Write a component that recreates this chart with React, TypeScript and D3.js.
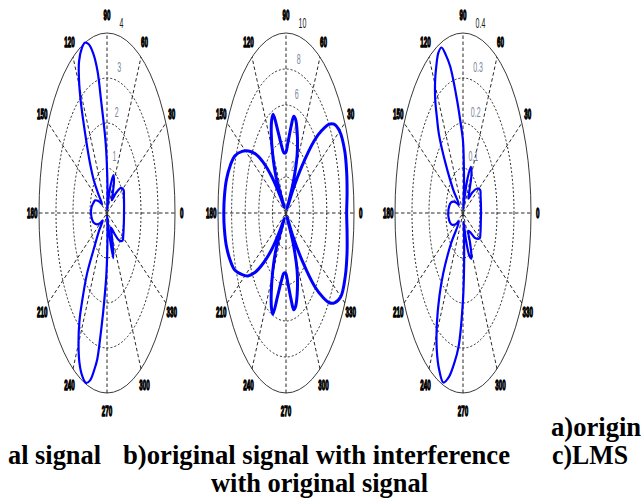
import React from "react";
import * as d3 from "d3";

// shared polar frame (MATLAB-style polar plot squeezed horizontally)
const RX = 68;
const RY = 180;
const CY = 213;

const angleTicks = [0, 30, 60, 90, 120, 150, 180, 210, 240, 270, 300, 330];
const angleTickLabels = ["0", "30", "60", "90", "120", "150", "180", "210", "240", "270", "300", "330"];
const spokeAngles = [0, 30, 60, 90, 120, 150];

// a) original signal
const aRings = [1, 2, 3, 4];
const aRingLabels = ["1", "2", "3", "4"];
const aAngles = [
  0, 10, 20, 28, 34, 40, 45, 52, 60, 66, 71, 76, 80, 84, 87, 90, 92, 94, 96, 98, 100, 103, 106, 109, 112, 116, 119, 122, 127, 132, 137, 141, 146, 152, 158, 165, 172,
  180, 188, 195, 203, 209, 214, 220, 226, 229, 233, 236, 240, 244, 248, 252, 255, 258, 260, 262, 264, 266, 268, 270, 273, 276, 280, 284, 290, 295, 300, 306, 314, 320, 326, 332, 340, 350,
];
const aValues = [
  1.0, 1.02, 1.06, 1.1, 1.0, 0.7, 0.4, 0.55, 0.82, 0.92, 0.65, 0.25, 0.08, 0.2, 0.55, 1.0, 1.4, 1.75, 2.1, 2.55, 3.2, 3.65, 3.9, 4.0, 3.95, 3.75, 3.4, 2.9, 2.05, 1.5, 1.05, 0.6, 0.35, 0.55, 0.75, 0.84, 0.92,
  0.94, 0.9, 0.82, 0.65, 0.47, 0.3, 0.6, 1.15, 1.8, 2.4, 2.9, 3.35, 3.7, 3.9, 3.97, 3.85, 3.55, 3.3, 2.75, 2.25, 1.8, 1.45, 1.05, 0.55, 0.2, 0.08, 0.3, 1.07, 0.8, 0.55, 0.4, 0.65, 0.95, 1.1, 1.08, 1.04, 1.01,
];

// b) original signal with interference
const bRings = [2, 4, 6, 8, 10];
const bRingLabels = ["2", "4", "6", "8", "10"];
const bAngles = [
  0, 7, 14, 22, 30, 35, 38, 41, 44, 48, 52, 55, 58, 63, 70, 75, 78, 81, 86, 91, 95, 100, 105, 109, 112, 116, 121, 126, 129, 132, 136, 140, 144, 148, 152, 157, 162, 168, 174,
  180, 186, 192, 198, 203, 208, 212, 216, 220, 224, 228, 231, 234, 239, 244, 248, 251, 255, 260, 265, 269, 274, 279, 282, 285, 290, 297, 302, 305, 308, 312, 316, 319, 322, 325, 330, 338, 346, 353,
];
const bValues = [
  8.92, 9.05, 9.2, 9.3, 9.1, 8.6, 8.0, 7.0, 5.8, 3.5, 1.5, 0.3, 2.0, 3.6, 4.8, 5.4, 5.5, 4.9, 3.9, 3.35, 3.35, 3.8, 4.8, 5.8, 5.6, 4.95, 3.8, 2.5, 0.4, 1.2, 2.9, 4.4, 5.6, 6.5, 7.3, 8.15, 8.6, 8.95, 9.1,
  9.15, 9.1, 8.95, 8.6, 8.15, 7.3, 6.6, 5.6, 4.3, 2.9, 1.2, 0.4, 2.5, 3.8, 4.95, 5.7, 5.95, 4.8, 3.8, 3.35, 3.35, 3.9, 4.9, 5.5, 5.4, 4.8, 3.6, 2.0, 0.3, 1.6, 3.6, 5.9, 7.1, 8.1, 8.7, 9.3, 9.4, 9.25, 9.05,
];

// c) LMS with original signal
const cRings = [0.1, 0.2, 0.3, 0.4];
const cRingLabels = ["0.1", "0.2", "0.3", "0.4"];
const cAngles = [
  0, 10, 20, 27, 33, 40, 45, 52, 60, 66, 71, 76, 80, 84, 87, 90, 94, 98, 103, 106, 109, 112, 116, 119, 123, 126, 129, 133, 138, 142, 148, 155, 162, 170,
  180, 188, 195, 202, 210, 218, 224, 229, 233, 238, 243, 248, 253, 257, 261, 265, 270, 273, 277, 281, 286, 291, 296, 302, 308, 315, 322, 330, 336, 345, 352,
];
const cValues = [
  0.106, 0.107, 0.11, 0.113, 0.1, 0.07, 0.045, 0.06, 0.1, 0.1125, 0.08, 0.03, 0.01, 0.06, 0.1, 0.16, 0.2, 0.254, 0.334, 0.365, 0.389, 0.385, 0.36, 0.338, 0.3, 0.26, 0.225, 0.15, 0.077, 0.03, 0.04, 0.06, 0.075, 0.083,
  0.087, 0.085, 0.08, 0.07, 0.05, 0.03, 0.1, 0.177, 0.23, 0.29, 0.34, 0.375, 0.394, 0.375, 0.34, 0.298, 0.193, 0.12, 0.05, 0.02, 0.06, 0.1, 0.113, 0.08, 0.05, 0.06, 0.09, 0.113, 0.112, 0.108, 0.106,
];

const rad = (deg: number) => (deg * Math.PI) / 180;

type PolarProps = {
  cx: number;
  rMax: number;
  rings: number[];
  ringLabels: string[];
  angles: number[];
  values: number[];
  lineWidth: number;
};

function PolarPlot({ cx, rMax, rings, ringLabels, angles, values, lineWidth }: PolarProps) {
  const x = d3.scaleLinear().domain([-rMax, rMax]).range([cx - RX, cx + RX]);
  const y = d3.scaleLinear().domain([-rMax, rMax]).range([CY + RY, CY - RY]);

  const pts: [number, number][] = angles.map((a, i) => [rad(a), values[i]]);
  const line = d3
    .line<[number, number]>()
    .x((d) => x(d[1] * Math.cos(d[0])))
    .y((d) => y(d[1] * Math.sin(d[0])))
    .curve(d3.curveCatmullRomClosed.alpha(0.5));

  const labelStep = rings[1] - rings[0];

  return (
    <g>
      {rings.map((r, i) => (
        <ellipse
          key={"ring" + i}
          cx={x(0)}
          cy={y(0)}
          rx={x(r) - x(0)}
          ry={y(0) - y(r)}
          fill="none"
          stroke={i === rings.length - 1 ? "#3a3a3a" : "#111"}
          strokeWidth={i === rings.length - 1 ? 1 : 0.9}
          strokeDasharray={i === rings.length - 1 ? undefined : "2,2"}
        />
      ))}
      {spokeAngles.map((a) => (
        <line
          key={"spoke" + a}
          x1={x(-rMax * Math.cos(rad(a)))}
          y1={y(-rMax * Math.sin(rad(a)))}
          x2={x(rMax * Math.cos(rad(a)))}
          y2={y(rMax * Math.sin(rad(a)))}
          stroke="#111"
          strokeWidth={0.9}
          strokeDasharray="3.5,2.5"
        />
      ))}
      {angleTicks.map((a, i) => (
        <text
          key={"at" + a}
          transform={`translate(${x(1.1 * rMax * Math.cos(rad(a)))},${y(1.1 * rMax * Math.sin(rad(a)))}) scale(0.42,1)`}
          textAnchor="middle"
          dominantBaseline="central"
          fontFamily="'Liberation Sans', Arial, sans-serif"
          fontWeight="bold"
          fontSize={15}
          fill="#000"
          stroke="#000"
          strokeWidth={1.3}
        >
          {angleTickLabels[i]}
        </text>
      ))}
      {rings.map((r, i) => {
        const rr = r + labelStep / 20;
        const tx = x(rr * Math.cos(rad(82))) + 3;
        const ty = y(rr * Math.sin(rad(82))) - 10;
        return (
          <text
            key={"rl" + i}
            transform={`translate(${tx},${ty}) scale(0.5,1)`}
            textAnchor="start"
            dominantBaseline="central"
            fontFamily="'Liberation Sans', Arial, sans-serif"
            fontSize={14}
            fill={i === rings.length - 1 ? "#1a1a1a" : "#7585a0"}
          >
            {ringLabels[i]}
          </text>
        );
      })}
      <path d={line(pts) ?? ""} fill="none" stroke="#0000ff" strokeWidth={lineWidth} strokeLinejoin="round" />
    </g>
  );
}

function Caption({ x, y, width, text }: { x: number; y: number; width: number; text: string }) {
  return (
    <text
      transform={`translate(${x},${y}) scale(1,1.1)`}
      fontFamily="'Liberation Serif', 'Times New Roman', serif"
      fontWeight="bold"
      fontSize={25}
      fill="#000"
      textLength={width}
      lengthAdjust="spacingAndGlyphs"
    >
      {text}
    </text>
  );
}

export default function App() {
  return (
    <svg width={641} height={499} style={{ position: "absolute", left: 0, top: 0, background: "#fff" }}>
      <rect width={641} height={499} fill="#fff" />
      <PolarPlot cx={107} rMax={4} rings={aRings} ringLabels={aRingLabels} angles={aAngles} values={aValues} lineWidth={2.2} />
      <PolarPlot cx={286} rMax={10} rings={bRings} ringLabels={bRingLabels} angles={bAngles} values={bValues} lineWidth={3} />
      <PolarPlot cx={463} rMax={0.4} rings={cRings} ringLabels={cRingLabels} angles={cAngles} values={cValues} lineWidth={2.2} />
      <Caption x={551} y={436} width={184} text="a)original signal" />
      <Caption x={8} y={464} width={93} text="al signal" />
      <Caption x={123} y={464} width={387} text="b)original signal with interference" />
      <Caption x={552} y={464} width={76} text="c)LMS" />
      <Caption x={211} y={492} width={217} text="with original signal" />
    </svg>
  );
}
